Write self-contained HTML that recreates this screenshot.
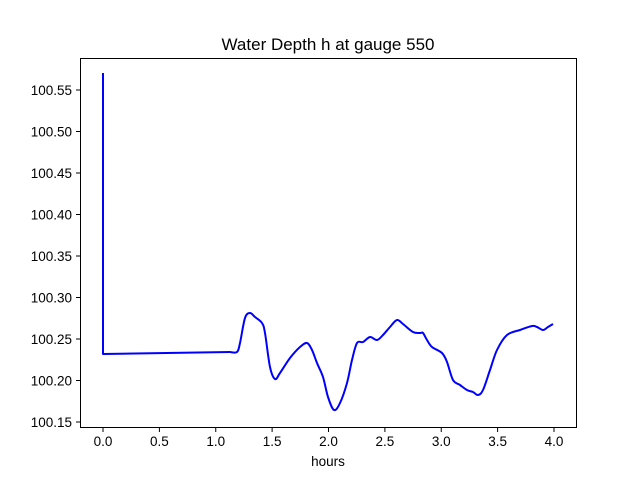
<!DOCTYPE html>
<html><head><meta charset="utf-8"><style>
body{margin:0;background:#fff;}
svg{display:block;font-family:"Liberation Sans","DejaVu Sans",sans-serif;}
</style></head><body>
<svg width="640" height="480" viewBox="0 0 640 480" xmlns="http://www.w3.org/2000/svg">
<rect width="640" height="480" fill="#fff"/>
<text x="328" y="50" font-size="17" text-anchor="middle" fill="#000">Water Depth h at gauge 550</text>
<polyline id="pl" fill="none" stroke="#0000ff" stroke-width="2" stroke-linejoin="round" points="103,73 103,354 230,352 237,352 240,343 245,318 250,313 255,317 262,323 265,333 270,367 275,379 280,373 290,358 300,347 307,343 312,350 317,363 323,377 328,397 334,410 340,403 347,383 352,360 357,343 363,342 370,337 377,340 383,335 390,327 397,320 403,324 413,332 420,333 423,333 427,340 432,347 442,353 447,362 453,380 460,385 467,390 473,392 478,395 483,390 490,370 497,350 507,335 520,330 532,326 537,327 543,330 548,327 553,324"/>
<path id="pp" fill="none" stroke="#0000ff" stroke-width="2" stroke-linejoin="round" d=""/>
<rect x="80.5" y="58.5" width="496" height="369" fill="none" stroke="#000" stroke-width="1"/>
<g stroke="#000" stroke-width="1">
<line x1="76" x2="80" y1="422" y2="422"/><line x1="76" x2="80" y1="380.5" y2="380.5"/><line x1="76" x2="80" y1="339" y2="339"/><line x1="76" x2="80" y1="297.5" y2="297.5"/><line x1="76" x2="80" y1="256" y2="256"/><line x1="76" x2="80" y1="214.5" y2="214.5"/><line x1="76" x2="80" y1="173" y2="173"/><line x1="76" x2="80" y1="131.5" y2="131.5"/><line x1="76" x2="80" y1="90" y2="90"/>
<line y1="428" y2="432" x1="103" x2="103"/><line y1="428" y2="432" x1="159.4" x2="159.4"/><line y1="428" y2="432" x1="215.75" x2="215.75"/><line y1="428" y2="432" x1="272.1" x2="272.1"/><line y1="428" y2="432" x1="328.5" x2="328.5"/><line y1="428" y2="432" x1="384.9" x2="384.9"/><line y1="428" y2="432" x1="441.25" x2="441.25"/><line y1="428" y2="432" x1="497.6" x2="497.6"/><line y1="428" y2="432" x1="554" x2="554"/>
</g>
<g font-size="13.5" fill="#000" text-anchor="end">
<text x="72" y="427">100.15</text><text x="72" y="385.5">100.20</text><text x="72" y="344">100.25</text><text x="72" y="302.5">100.30</text><text x="72" y="261">100.35</text><text x="72" y="219.5">100.40</text><text x="72" y="178">100.45</text><text x="72" y="136.5">100.50</text><text x="72" y="95">100.55</text>
</g>
<g font-size="13.5" fill="#000" text-anchor="middle">
<text x="103" y="446">0.0</text><text x="159.4" y="446">0.5</text><text x="215.75" y="446">1.0</text><text x="272.1" y="446">1.5</text><text x="328.5" y="446">2.0</text><text x="384.9" y="446">2.5</text><text x="441.25" y="446">3.0</text><text x="497.6" y="446">3.5</text><text x="554" y="446">4.0</text>
<text x="328" y="466">hours</text>
</g>
</svg>
<script>
(function(){
var pl=document.getElementById('pl');
var pts=pl.getAttribute('points').trim().split(/\s+/).map(function(s){return s.split(',').map(Number);});
var d='M'+pts[0][0]+','+pts[0][1]+' L'+pts[1][0]+','+pts[1][1]+' L'+pts[2][0]+','+pts[2][1];
for(var i=2;i<pts.length-1;i++){
var p0=pts[Math.max(i-1,2)],p1=pts[i],p2=pts[i+1],p3=pts[Math.min(i+2,pts.length-1)];
var c1x=p1[0]+(p2[0]-p0[0])/6,c1y=p1[1]+(p2[1]-p0[1])/6;
var c2x=p2[0]-(p3[0]-p1[0])/6,c2y=p2[1]-(p3[1]-p1[1])/6;
d+=' C'+c1x.toFixed(2)+','+c1y.toFixed(2)+' '+c2x.toFixed(2)+','+c2y.toFixed(2)+' '+p2[0]+','+p2[1];
}
document.getElementById('pp').setAttribute('d',d);
pl.parentNode.removeChild(pl);
})();
</script>
</body></html>
